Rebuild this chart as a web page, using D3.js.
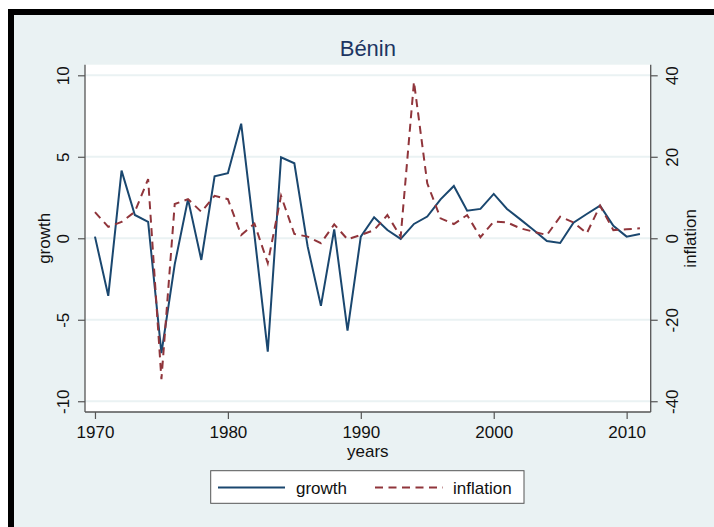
<!DOCTYPE html>
<html><head><meta charset="utf-8">
<script src="https://cdn.jsdelivr.net/npm/d3@7"></script>
<style>html,body{margin:0;padding:0;background:#fff;}svg{display:block;}</style>
</head><body>
<script>
const years = d3.range(1970, 2012);
const growth = [0.1,-3.53,4.15,1.43,1.0,-7.05,-1.6,2.4,-1.33,3.8,
  3.99,7.03,0.2,-6.96,4.97,4.6,-0.5,-4.15,0.55,-5.67,
  0.1,1.29,0.51,-0.04,0.88,1.33,2.39,3.21,1.69,1.8,
  2.72,1.8,1.16,0.51,-0.17,-0.29,0.96,1.49,2.0,0.77,
  0.1,0.26];
const inflation = [6.4,2.8,4.0,6.5,14.5,-34.6,8.4,9.6,6.5,10.4,
  9.6,0.8,3.6,-6.1,10.4,1.05,0.4,-1.2,3.4,-0.25,
  0.8,2.0,5.7,0.4,38.4,13.5,4.9,3.5,5.7,0.25,
  4.1,3.9,2.45,1.6,0.8,5.3,3.9,1.2,8.0,2.0,
  2.2,2.45];
const xTicks = [1970,1980,1990,2000,2010];
const leftTicks = [-10,-5,0,5,10];
const rightTicks = [-40,-20,0,20,40];
const title = "Bénin";

const W = 714, H = 527;
const L = 85, R = 650.7, T = 64.7, B = 412;
const font = "'Liberation Sans', Arial, sans-serif";
const bg = "#EAF2F3", axisCol = "#555";
const fmt = d => String(d);

const svg = d3.select("body").append("svg").attr("width", W).attr("height", H);
svg.append("rect").attr("x",0).attr("y",0).attr("width",W).attr("height",H).attr("fill","#fff");
svg.append("rect").attr("x",8).attr("y",9).attr("width",W-8).attr("height",H-9).attr("fill","#000");
svg.append("rect").attr("x",14).attr("y",15).attr("width",W-14).attr("height",H-15).attr("fill",bg);

const x = d3.scaleLinear().domain([1969.25, 2011.81]).range([L, R]);
const yL = d3.scaleLinear().domain([-10.66, 10.65]).range([B, T]);
const yR = d3.scaleLinear().domain([-42.64, 42.6]).range([B, T]);

svg.append("rect").attr("x",L).attr("y",T).attr("width",R-L).attr("height",B-T).attr("fill","#fff");

// gridlines
svg.append("g").selectAll("line").data(leftTicks).join("line")
  .attr("x1",L).attr("x2",R).attr("y1",d=>yL(d)).attr("y2",d=>yL(d))
  .attr("stroke",bg).attr("stroke-width",2);

// axes
const axL = svg.append("g").attr("transform",`translate(${L},0)`)
  .call(d3.axisLeft(yL).tickValues(leftTicks).tickFormat(fmt).tickSize(7).tickPadding(0).tickSizeOuter(0));
const axR = svg.append("g").attr("transform",`translate(${R},0)`)
  .call(d3.axisRight(yR).tickValues(rightTicks).tickFormat(fmt).tickSize(7).tickPadding(0).tickSizeOuter(0));
const axB = svg.append("g").attr("transform",`translate(0,${B})`)
  .call(d3.axisBottom(x).tickValues(xTicks).tickFormat(fmt).tickSize(7).tickSizeOuter(0));
[axL,axR,axB].forEach(a=>{
  a.select(".domain").attr("stroke",axisCol).attr("stroke-width",1.3);
  a.selectAll(".tick line").attr("stroke",axisCol).attr("stroke-width",1.2);
  a.selectAll("text").attr("font-family",font).attr("font-size",17).attr("fill","#111");
});
axL.select(".domain").attr("d",`M0,${B}V${T}`);
axR.select(".domain").attr("d",`M0,${B}V${T}`);
axB.select(".domain").attr("d",`M${L},0H${R}`);
axL.selectAll(".tick text").attr("x",null).attr("dy",null)
  .attr("text-anchor","middle").attr("transform","translate(-16.5,0) rotate(-90)");
axR.selectAll(".tick text").attr("x",null).attr("dy",null)
  .attr("text-anchor","middle").attr("transform","translate(27.5,0) rotate(-90)");
axB.selectAll(".tick text").attr("y",null).attr("dy",null).attr("transform","translate(0,26)");

// axis titles
svg.append("text").attr("transform",`translate(49.5,${(T+B)/2}) rotate(-90)`)
  .attr("text-anchor","middle").attr("font-family",font).attr("font-size",17).attr("fill","#111").text("growth");
svg.append("text").attr("transform",`translate(696,${(T+B)/2}) rotate(-90)`)
  .attr("text-anchor","middle").attr("font-family",font).attr("font-size",17).attr("fill","#111").text("inflation");
svg.append("text").attr("x",(L+R)/2).attr("y",456.5)
  .attr("text-anchor","middle").attr("font-family",font).attr("font-size",17).attr("fill","#111").text("years");
svg.append("text").attr("x",(L+R)/2).attr("y",56)
  .attr("text-anchor","middle").attr("font-family",font).attr("font-size",22).attr("fill","#1C3562").text(title);

// lines
const gCol = "#1A476F", iCol = "#90353B";
svg.append("path").datum(years.map((yr,i)=>[yr,growth[i]]))
  .attr("d", d3.line().x(d=>x(d[0])).y(d=>yL(d[1])))
  .attr("fill","none").attr("stroke",gCol).attr("stroke-width",2).attr("stroke-linejoin","miter");
svg.append("path").datum(years.map((yr,i)=>[yr,inflation[i]]))
  .attr("d", d3.line().x(d=>x(d[0])).y(d=>yR(d[1])))
  .attr("fill","none").attr("stroke",iCol).attr("stroke-width",2).attr("stroke-dasharray","8,5.5");

// legend
const lg = svg.append("g");
lg.append("rect").attr("x",210.7).attr("y",470.7).attr("width",313.3).attr("height",32.6)
  .attr("fill","#fff").attr("stroke",axisCol).attr("stroke-width",1);
lg.append("line").attr("x1",218).attr("x2",285).attr("y1",487.5).attr("y2",487.5)
  .attr("stroke",gCol).attr("stroke-width",2);
lg.append("text").attr("x",296).attr("y",494).attr("font-family",font).attr("font-size",17).attr("fill","#111").text("growth");
lg.append("line").attr("x1",375).attr("x2",443).attr("y1",487.5).attr("y2",487.5)
  .attr("stroke",iCol).attr("stroke-width",2).attr("stroke-dasharray","8,5.5");
lg.append("text").attr("x",453).attr("y",494).attr("font-family",font).attr("font-size",17).attr("fill","#111").text("inflation");
</script>
</body></html>
